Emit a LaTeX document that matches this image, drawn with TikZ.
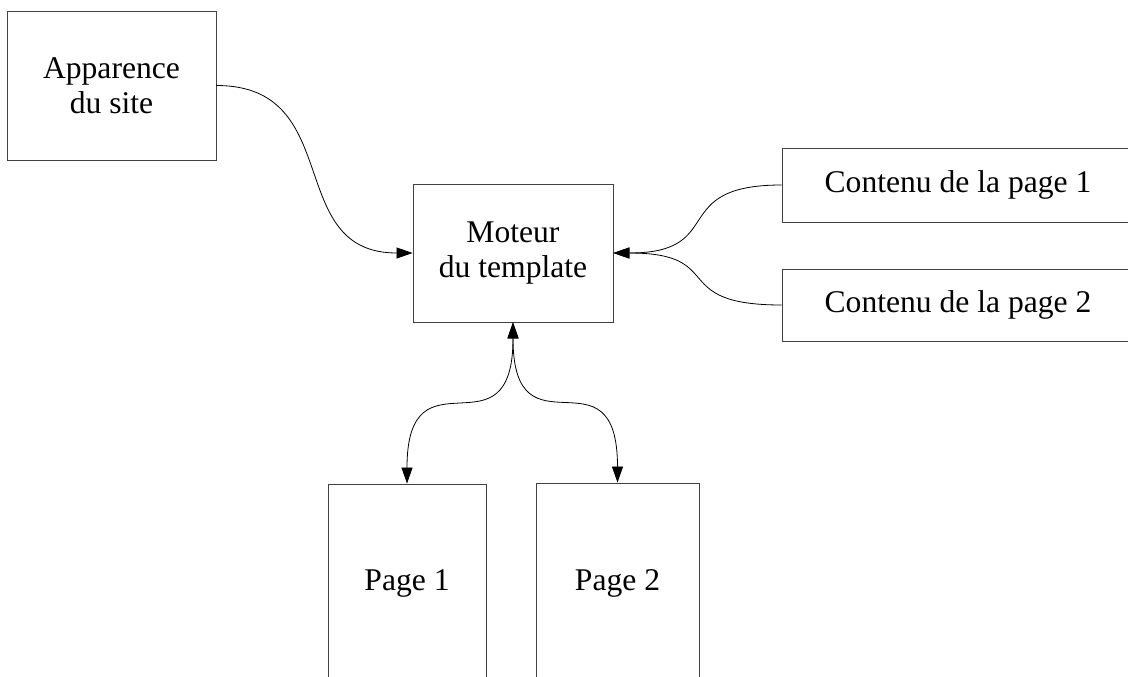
\documentclass[tikz,border=0pt]{standalone}
\usepackage{fontspec}
\setmainfont{Liberation Serif}
\usetikzlibrary{arrows.meta}
\tikzset{
  box/.style={draw=black!75, line width=0.9pt, fill=white, inner sep=0pt, align=center,
    font=\fontsize{31.6pt}{35pt}\selectfont},
  conn/.style={draw=black, line width=0.8pt, -{Triangle[length=16pt,width=11pt]}},
  conn2/.style={draw=black, line width=0.8pt, {Triangle[length=16pt,width=11pt]}-{Triangle[length=16pt,width=11pt]}}
}
\begin{document}
\begin{tikzpicture}[x=1pt,y=-1pt]
\clip (0,0) rectangle (1128,677);
\fill[white] (0,0) rectangle (1128,677);
\node[box, minimum width=209pt, minimum height=149pt] (app) at (111.5,85.5) {Apparence\\du site};
\node[box, minimum width=200pt, minimum height=138pt] (mot) at (513,253) {Moteur\\du template};
\node[box, minimum width=352pt, minimum height=74pt] (c1) at (958,185) {Contenu de la page 1};
\node[box, minimum width=352pt, minimum height=72pt] (c2) at (958,305) {Contenu de la page 2};
\node[box, minimum width=158pt, minimum height=199pt] (p1) at (407,583.5) {Page 1};
\node[box, minimum width=163pt, minimum height=200pt] (p2) at (617.5,583) {Page 2};
\draw[conn] (app.east) .. controls +(130,0) and +(-130,0) .. (mot.west);
\draw[conn] (c1.west) .. controls +(-115,0) and +(115,0) .. (mot.east);
\draw[conn] (c2.west) .. controls +(-115,0) and +(115,0) .. (mot.east);
\draw[conn2] (mot.south) .. controls +(0,140) and +(0,-140) .. (p1.north);
\draw[conn2] (mot.south) .. controls +(0,140) and +(0,-140) .. (p2.north);
\end{tikzpicture}
\end{document}
